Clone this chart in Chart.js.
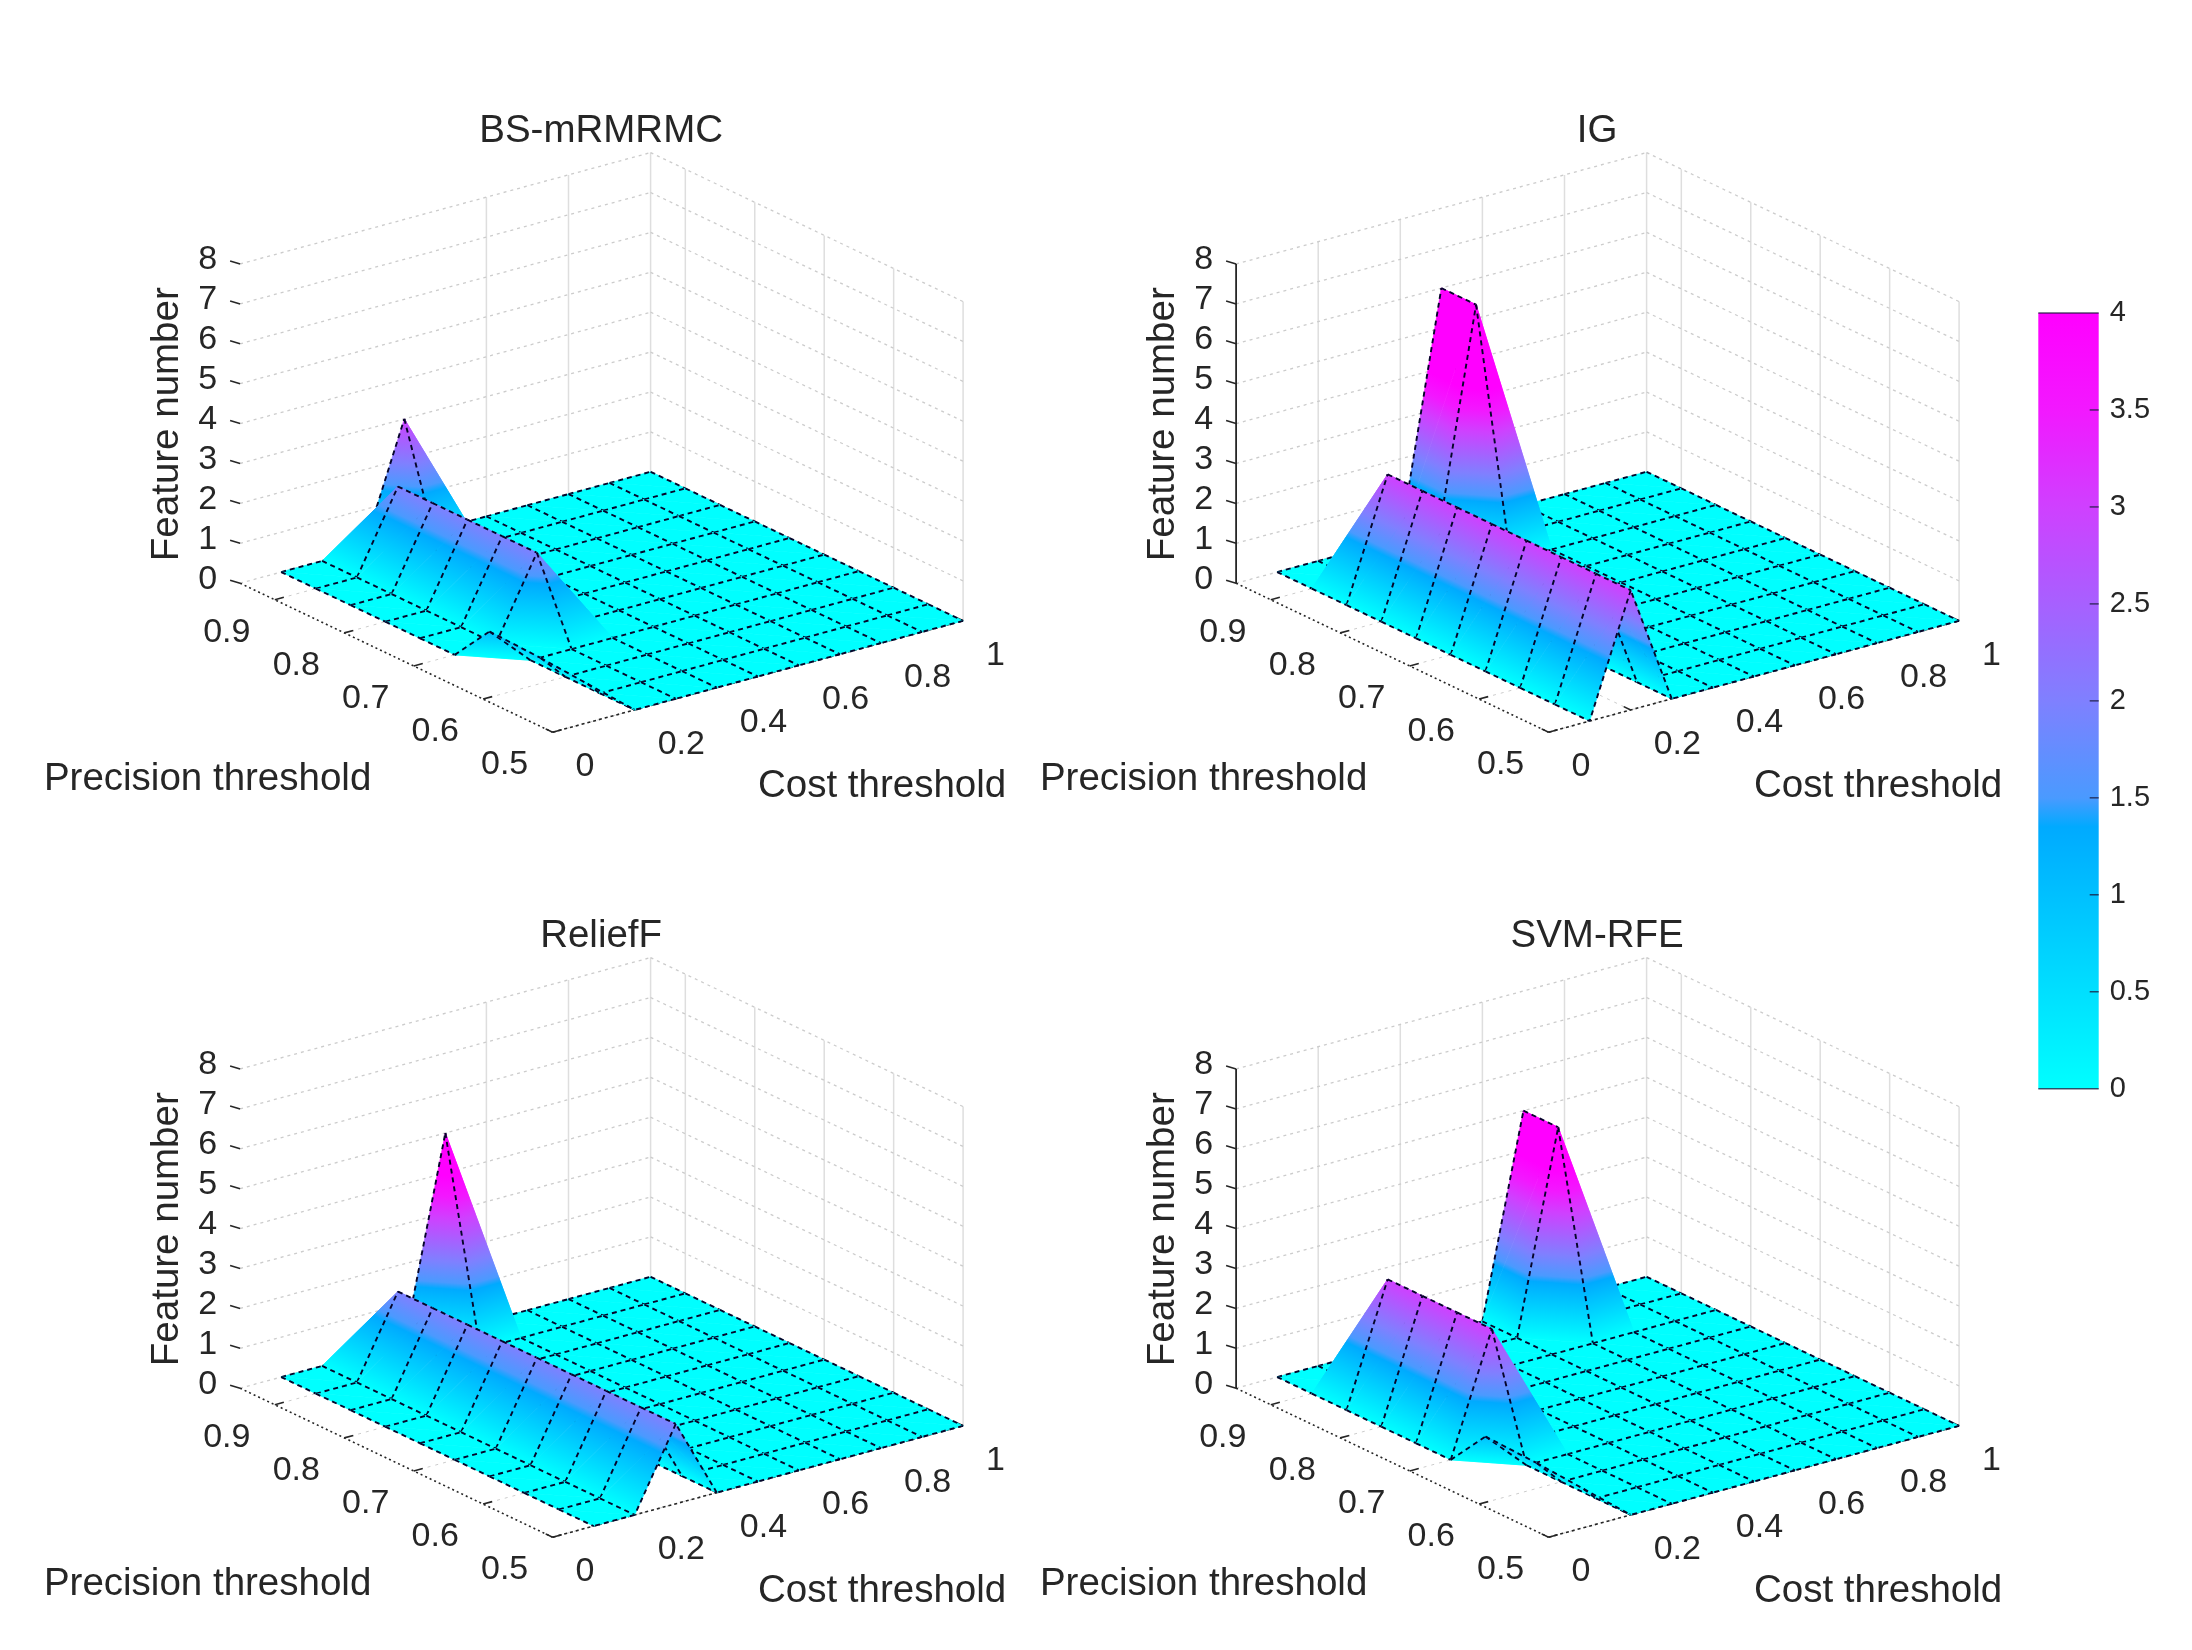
<!DOCTYPE html>
<html>
<head>
<meta charset="utf-8">
<title>Feature number surfaces</title>
<script src="https://cdn.jsdelivr.net/npm/chart.js@4"></script>
<style>
  html, body { margin: 0; padding: 0; background: #fff; }
  #page { position: relative; width: 2192px; height: 1650px; overflow: hidden; }
  canvas { position: absolute; filter: blur(0.6px); }
</style>
</head>
<body>
<div id="page">
  <canvas id="panel0" width="1030" height="740" style="left:0;top:90px"></canvas>
  <canvas id="panel1" width="1030" height="740" style="left:995.5px;top:90px"></canvas>
  <canvas id="panel2" width="1030" height="740" style="left:0;top:895.3px"></canvas>
  <canvas id="panel3" width="1030" height="740" style="left:995.5px;top:895.3px"></canvas>
  <canvas id="colorbar" width="192" height="840" style="left:2000px;top:280px"></canvas>
</div>
<script>
// grid of the surfaces
const costGrid = [0.1, 0.2, 0.3, 0.4, 0.5, 0.6, 0.7, 0.8, 0.9, 1];
const precisionGrid = [0.95, 0.9, 0.85, 0.8, 0.75, 0.7, 0.65, 0.6, 0.55, 0.5];

// ticks
const costTicks = [0, 0.2, 0.4, 0.6, 0.8, 1];
const precisionTicks = [0.9, 0.8, 0.7, 0.6, 0.5];
const featureTicks = [0, 1, 2, 3, 4, 5, 6, 7, 8];
const colorTicks = [0, 0.5, 1, 1.5, 2, 2.5, 3, 3.5, 4];

const titles = ['BS-mRMRMC', 'IG', 'ReliefF', 'SVM-RFE'];

// feature number, one row per precision threshold, one column per cost threshold
const bsValues = [
  [0, 0, 0, 3, 0, 0, 0, 0, 0, 0],
  [0, 0, 2, 0, 0, 0, 0, 0, 0, 0],
  [0, 0, 2, 0, 0, 0, 0, 0, 0, 0],
  [0, 0, 2, 0, 0, 0, 0, 0, 0, 0],
  [0, 0, 2, 0, 0, 0, 0, 0, 0, 0],
  [0, 0, 2, 0, 0, 0, 0, 0, 0, 0],
  [1, 0, 0, 0, 0, 0, 0, 0, 0, 0],
  [0.64, 0, 0, 0, 0, 0, 0, 0, 0, 0],
  [0.32, 0, 0, 0, 0, 0, 0, 0, 0, 0],
  [0, 0, 0, 0, 0, 0, 0, 0, 0, 0]
];
const igValues = [
  [0, 0, 0, 0, 6, 0, 0, 0, 0, 0],
  [0, 0, 0, 0, 6, 0, 0, 0, 0, 0],
  [0, 3, 0, 0, 0, 0, 0, 0, 0, 0],
  [0, 3, 0, 0, 0, 0, 0, 0, 0, 0],
  [0, 3, 0, 0, 0, 0, 0, 0, 0, 0],
  [0, 3, 0, 0, 0, 0, 0, 0, 0, 0],
  [0, 3, 0, 0, 0, 0, 0, 0, 0, 0],
  [0, 3, 0, 0, 0, 0, 0, 0, 0, 0],
  [0, 3, 0, 0, 0, 0, 0, 0, 0, 0],
  [0, 3, 0, 0, 0, 0, 0, 0, 0, 0]
];
const reliefValues = [
  [0, 0, 0, 0, 5, 0, 0, 0, 0, 0],
  [0, 0, 2, 0, 0, 0, 0, 0, 0, 0],
  [0, 0, 2, 0, 0, 0, 0, 0, 0, 0],
  [0, 0, 2, 0, 0, 0, 0, 0, 0, 0],
  [0, 0, 2, 0, 0, 0, 0, 0, 0, 0],
  [0, 0, 2, 0, 0, 0, 0, 0, 0, 0],
  [0, 0, 2, 0, 0, 0, 0, 0, 0, 0],
  [0, 0, 2, 0, 0, 0, 0, 0, 0, 0],
  [0, 0, 2, 0, 0, 0, 0, 0, 0, 0],
  [0, 0, 2, 0, 0, 0, 0, 0, 0, 0]
];
const svmValues = [
  [0, 0, 0, 0, 0, 0, 5, 0, 0, 0],
  [0, 0, 0, 0, 0, 0, 5, 0, 0, 0],
  [0, 3, 0, 0, 0, 0, 0, 0, 0, 0],
  [0, 3, 0, 0, 0, 0, 0, 0, 0, 0],
  [0, 3, 0, 0, 0, 0, 0, 0, 0, 0],
  [0, 3, 0, 0, 0, 0, 0, 0, 0, 0],
  [1, 0, 0, 0, 0, 0, 0, 0, 0, 0],
  [0.64, 0, 0, 0, 0, 0, 0, 0, 0, 0],
  [0.32, 0, 0, 0, 0, 0, 0, 0, 0, 0],
  [0, 0, 0, 0, 0, 0, 0, 0, 0, 0]
];
// lowest cost threshold of each row (the mesh folds in near the front of two panels)
const bsFirstCost = [0.1, 0.1, 0.1, 0.1, 0.1, 0.1, 0.1, 0.14, 0.17, 0.2];
const igFirstCost = [0.1, 0.1, 0.1, 0.1, 0.1, 0.1, 0.1, 0.1, 0.1, 0.1];
const reliefFirstCost = [0.1, 0.1, 0.1, 0.1, 0.1, 0.1, 0.1, 0.1, 0.1, 0.1];
const svmFirstCost = [0.1, 0.1, 0.1, 0.1, 0.1, 0.1, 0.1, 0.14, 0.17, 0.2];

const panelValues = [bsValues, igValues, reliefValues, svmValues];
const panelFirstCost = [bsFirstCost, igFirstCost, reliefFirstCost, svmFirstCost];

// colormap of the colorbar: value, colour
const mapValues = [0, 1.35, 1.5, 2, 3, 3.5, 4];
const mapColors = ['#00ffff', '#00aaff', '#4a9aff', '#7f80ff', '#cf40ff', '#f218ff', '#ff00ff'];

const textColor = '#262626';
const fontName = '"Liberation Sans", Arial, sans-serif';

// orthographic view of the box, in view units (1 unit = 1 canvas pixel)
const costDir = [410.5, -111.4];
const precDir = [312.5, 149];
const heightUnit = 39.9;
const precHigh = 0.95, precLow = 0.5;

function project(cost, prec, z) {
  const t = (precHigh - prec) / (precHigh - precLow);
  return { x: cost * costDir[0] + t * precDir[0], y: cost * costDir[1] + t * precDir[1] - z * heightUnit };
}

function line(points, color, width, dash) {
  return { data: points, showLine: true, pointRadius: 0, borderColor: color, borderWidth: width,
           borderDash: dash || [], tension: 0, clip: false, fill: false };
}

function face(points, heights) {
  return { data: points, showLine: false, pointRadius: 0, faceHeights: heights, clip: false };
}

// walls, floor and axes, then the surface from back to front
function buildMarks(values, firstCost, showZAxis) {
  const marks = [];
  const wallGrey = '#cccccc', stemGrey = '#dedede';

  costTicks.slice(1).forEach(c => {
    if (showZAxis || c > 0.5) marks.push(line([project(c, precHigh, 0), project(c, precHigh, 8)], stemGrey, 1.5));
    marks.push(line([project(c, precHigh, 0), project(c, precLow, 0)], wallGrey, 1, [3, 5]));
  });
  precisionTicks.forEach(p => {
    marks.push(line([project(1, p, 0), project(1, p, 8)], stemGrey, 1.5));
    marks.push(line([project(1, p, 0), project(0, p, 0)], wallGrey, 1, [3, 5]));
  });
  featureTicks.forEach(z => {
    marks.push(line([project(0, precHigh, z), project(1, precHigh, z)], wallGrey, 1.3, [3, 4]));
    marks.push(line([project(1, precHigh, z), project(1, precLow, z)], wallGrey, 1.3, [3, 4]));
    const a = project(0, precHigh, z);
    marks.push(line([{ x: a.x - 10, y: a.y - 3 }, a], textColor, 1.6));
  });

  marks.push(line([project(0, precHigh, 0), project(0, precLow, 0)], textColor, 1.6, [2, 3]));
  marks.push(line([project(0, precLow, 0), project(1, precLow, 0)], textColor, 1.6, [3, 3]));
  precisionTicks.forEach(p => {
    marks.push(line([project(0, p, 0), project(0.022, p, 0)], textColor, 1.6));
  });
  costTicks.forEach(c => {
    marks.push(line([project(c, precLow, 0), project(c, precLow + 0.01, 0)], textColor, 1.6));
  });
  if (showZAxis) {
    marks.push(line([project(0, precHigh, 0), project(0, precHigh, 8)], textColor, 1.8));
  }

  const costOf = (i, j) => (j === 0 ? firstCost[i] : costGrid[j]);
  const node = (i, j) => project(costOf(i, j), precisionGrid[i], values[i][j]);
  const edge = pts => line(pts, '#05052a', 1.9, [5, 4]);
  const lastI = precisionGrid.length - 2, lastJ = costGrid.length - 2;

  for (let i = 0; i <= lastI; i++) {
    for (let j = lastJ; j >= 0; j--) {
      const a = node(i, j), b = node(i, j + 1), c = node(i + 1, j + 1), d = node(i + 1, j);
      // the far triangle and its edges go first, the near triangle may hide them
      marks.push(face([a, b, c], [values[i][j], values[i][j + 1], values[i + 1][j + 1]]));
      marks.push(edge([a, b]));
      marks.push(edge([b, c]));
      marks.push(face([a, c, d], [values[i][j], values[i + 1][j + 1], values[i + 1][j]]));
      if (i === lastI) marks.push(edge([c, d]));
      if (j === 0) marks.push(edge([a, d]));
    }
  }
  return marks.reverse(); // chart.js paints the last dataset first
}

// z runs linearly over a triangle, so one linear gradient shades it exactly
const surfacePainter = {
  id: 'surfacePainter',
  beforeDatasetDraw(chart, args) {
    const heights = chart.data.datasets[args.index].faceHeights;
    if (!heights) return;
    const pts = chart.getDatasetMeta(args.index).data;
    const ctx = chart.ctx;
    const dx1 = pts[1].x - pts[0].x, dy1 = pts[1].y - pts[0].y;
    const dx2 = pts[2].x - pts[0].x, dy2 = pts[2].y - pts[0].y;
    const dz1 = heights[1] - heights[0], dz2 = heights[2] - heights[0];
    const det = dx1 * dy2 - dx2 * dy1;
    const gx = (dz1 * dy2 - dz2 * dy1) / det;
    const gy = (dx1 * dz2 - dx2 * dz1) / det;
    const g2 = gx * gx + gy * gy;
    let paint;
    if (Math.abs(det) < 1e-6 || g2 < 1e-12) {
      paint = mapColor((heights[0] + heights[1] + heights[2]) / 3);
    } else {
      const s0 = -heights[0] / g2, s1 = (4 - heights[0]) / g2;
      paint = ctx.createLinearGradient(pts[0].x + gx * s0, pts[0].y + gy * s0, pts[0].x + gx * s1, pts[0].y + gy * s1);
      mapValues.forEach((v, k) => paint.addColorStop(v / 4, mapColors[k]));
    }
    ctx.save();
    ctx.beginPath();
    ctx.moveTo(pts[0].x, pts[0].y);
    ctx.lineTo(pts[1].x, pts[1].y);
    ctx.lineTo(pts[2].x, pts[2].y);
    ctx.closePath();
    ctx.fillStyle = paint;
    ctx.strokeStyle = paint;
    ctx.lineWidth = 0.7;
    ctx.fill();
    ctx.stroke();
    ctx.restore();
  }
};

function mapColor(v) {
  let k = 0;
  while (k < mapValues.length - 1 && v > mapValues[k + 1]) k++;
  return mapColors[k];
}

// tick labels and titles of the 3d box
const boxLabels = {
  id: 'boxLabels',
  afterDraw(chart) {
    const ctx = chart.ctx, sx = chart.scales.x, sy = chart.scales.y;
    const px = p => ({ x: sx.getPixelForValue(p.x), y: sy.getPixelForValue(p.y) });
    ctx.save();
    ctx.fillStyle = textColor;
    ctx.textBaseline = 'middle';

    ctx.font = '34px ' + fontName;
    ctx.textAlign = 'center';
    featureTicks.forEach(z => {
      const a = px(project(0, precHigh, z));
      ctx.fillText(String(z), a.x - 32.5, a.y - 4);
    });
    precisionTicks.forEach(p => {
      const a = px(project(0, p, 0));
      ctx.fillText(p.toFixed(1), a.x - 48, a.y + 32.5);
    });
    ctx.textAlign = 'left';
    costTicks.forEach(c => {
      const a = px(project(c, precLow, 0));
      ctx.fillText(String(c), a.x + 23, a.y + 34.5);
    });

    const o = px({ x: 0, y: 0 });
    ctx.font = '38.5px ' + fontName;
    ctx.textAlign = 'center';
    ctx.fillText(chart.options.plugins.boxLabels.title, o.x + 361, o.y - 452);
    ctx.fillText('Precision threshold', o.x - 32.5, o.y + 196);
    ctx.fillText('Cost threshold', o.x + 642, o.y + 203);
    ctx.save();
    ctx.translate(o.x - 73, o.y - 159);
    ctx.rotate(-Math.PI / 2);
    ctx.fillText('Feature number', 0, 0);
    ctx.restore();
    ctx.restore();
  }
};

const noiseless = { animation: false, responsive: false, devicePixelRatio: 1, events: [] };

panelValues.forEach((values, n) => {
  new Chart(document.getElementById('panel' + n), {
    type: 'scatter',
    data: { datasets: buildMarks(values, panelFirstCost[n], n % 2 === 1) },
    options: {
      ...noiseless,
      layout: { padding: 0 },
      scales: {
        x: { type: 'linear', display: false, min: -240.1, max: 789.9 },
        y: { type: 'linear', display: false, min: -493.2, max: 246.8, reverse: true }
      },
      plugins: { legend: { display: false }, tooltip: { enabled: false }, boxLabels: { title: titles[n] } }
    },
    plugins: [surfacePainter, boxLabels]
  });
});

// ticks sit inside the bar
const innerTicks = {
  id: 'innerTicks',
  afterDraw(chart) {
    const ctx = chart.ctx, area = chart.chartArea, sy = chart.scales.y;
    ctx.save();
    ctx.strokeStyle = 'rgba(25,25,60,0.75)';
    ctx.lineWidth = 1.5;
    colorTicks.forEach(v => {
      const y = sy.getPixelForValue(v);
      const edge = v === 0 || v === 4;
      ctx.beginPath();
      ctx.moveTo(edge ? area.left : area.right - 9, y);
      ctx.lineTo(area.right, y);
      ctx.stroke();
    });
    ctx.restore();
  }
};

new Chart(document.getElementById('colorbar'), {
  type: 'bar',
  data: {
    labels: [''],
    datasets: [{
      data: [[colorTicks[0], colorTicks[colorTicks.length - 1]]],
      barPercentage: 1,
      categoryPercentage: 1,
      backgroundColor(c) {
        const area = c.chart.chartArea;
        if (!area) return mapColors[0];
        const g = c.chart.ctx.createLinearGradient(0, area.bottom, 0, area.top);
        mapValues.forEach((v, k) => g.addColorStop(v / 4, mapColors[k]));
        return g;
      }
    }]
  },
  options: {
    ...noiseless,
    layout: { padding: { left: 38.3, top: 33, bottom: 31.3, right: 0 } },
    scales: {
      x: { display: false },
      y: {
        position: 'right',
        min: 0,
        max: 4,
        afterFit(scale) { scale.width = 93.3; },
        border: { display: false },
        grid: { display: false },
        ticks: {
          stepSize: 0.5,
          padding: 3,
          color: textColor,
          font: { family: 'Liberation Sans', size: 29 },
          callback: v => String(v)
        }
      }
    },
    plugins: { legend: { display: false }, tooltip: { enabled: false } }
  },
  plugins: [innerTicks]
});
</script>
</body>
</html>
